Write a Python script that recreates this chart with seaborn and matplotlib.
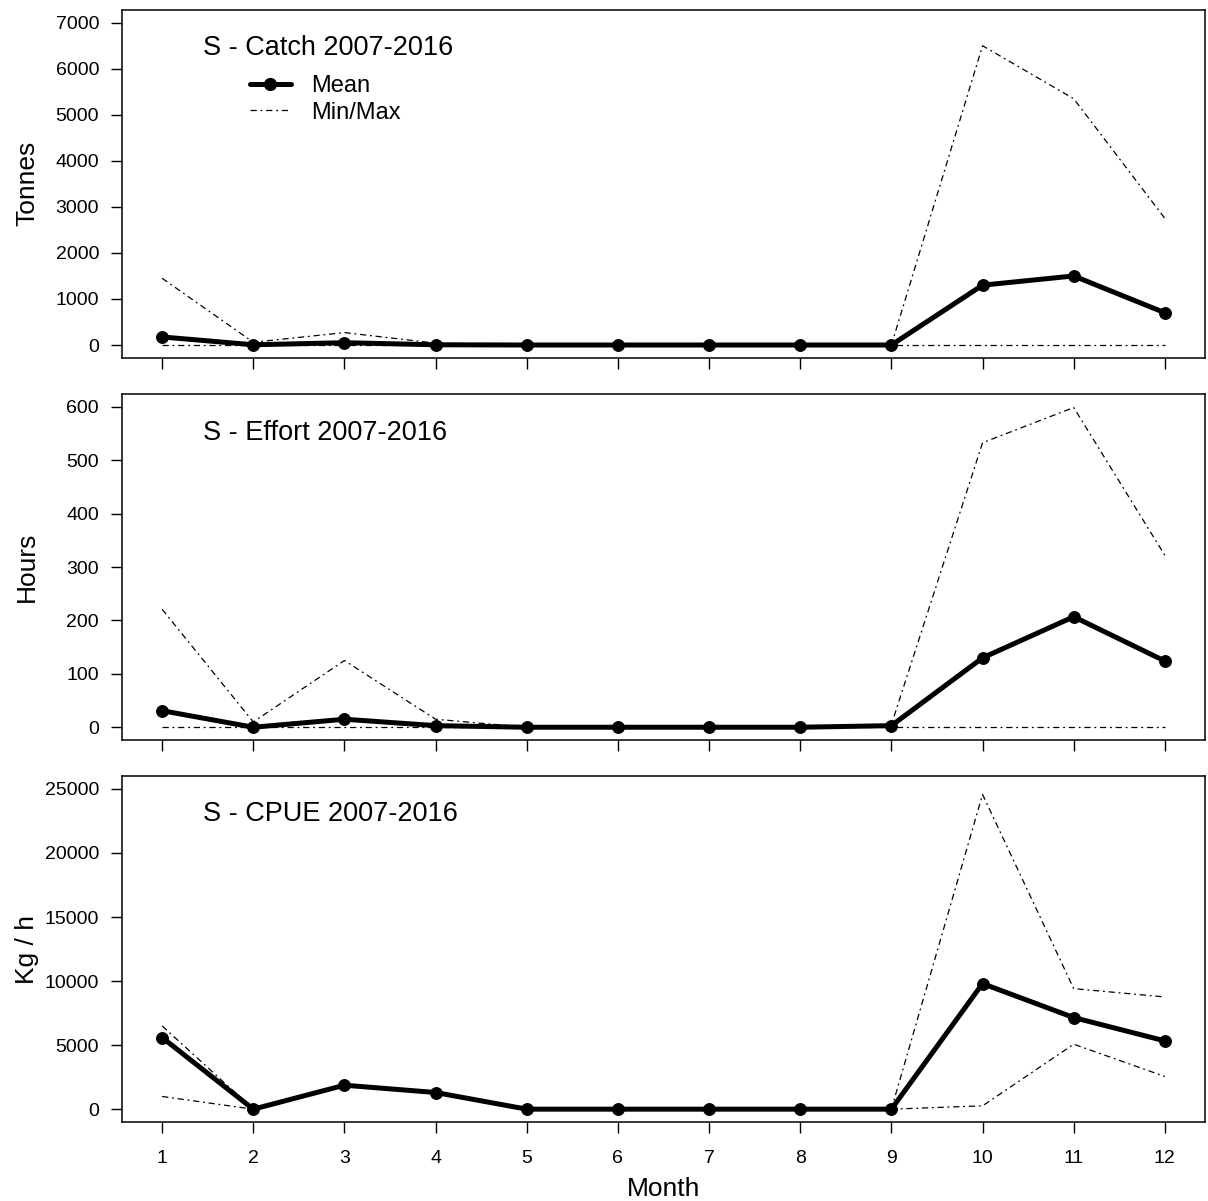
import numpy as np
import pandas as pd
import matplotlib
matplotlib.use("Agg")
import matplotlib.pyplot as plt
import seaborn as sns
from matplotlib.lines import Line2D

# monthly summaries
months = [1, 2, 3, 4, 5, 6, 7, 8, 9, 10, 11, 12]

catch_mean = [175, 5, 50, 5, 0, 0, 0, 0, 0, 1300, 1500, 700]
catch_min = [0, 0, 0, 0, 0, 0, 0, 0, 0, 0, 0, 0]
catch_max = [1450, 60, 270, 40, 0, 0, 0, 0, 0, 6500, 5350, 2750]

effort_mean = [31, 0, 15, 3, 0, 0, 0, 0, 3, 130, 207, 124]
effort_min = [0, 0, 0, 0, 0, 0, 0, 0, 0, 0, 0, 0]
effort_max = [221, 10, 125, 15, 0, 0, 0, 0, 5, 533, 599, 322]

cpue_mean = [5590, 0, 1870, 1300, 0, 0, 0, 0, 0, 9800, 7150, 5330]
cpue_min = [990, 0, 1870, 1300, 0, 0, 0, 0, 0, 260, 5070, 2550]
cpue_max = [6500, 0, 1870, 1300, 0, 0, 0, 0, 0, 24570, 9410, 8760]

titles = ["S - Catch 2007-2016", "S - Effort 2007-2016", "S - CPUE 2007-2016"]
ylabels = ["Tonnes", "Hours", "Kg / h"]
yticks = [range(0, 7001, 1000), range(0, 601, 100), range(0, 25001, 5000)]
ylims = [(-280, 7280), (-24, 624), (-1000, 26000)]

sns.set_theme(style="ticks")
plt.rcParams["font.family"] = ["Liberation Sans", "DejaVu Sans"]
plt.rcParams["text.color"] = "black"
plt.rcParams["axes.labelcolor"] = "black"

fig = plt.figure(figsize=(12.08, 12.01), dpi=100)
boxes = [[0.101, 0.702, 0.8965, 0.2898],
         [0.101, 0.3838, 0.8965, 0.288],
         [0.101, 0.0658, 0.8965, 0.288]]

panels = [(catch_mean, catch_min, catch_max),
          (effort_mean, effort_min, effort_max),
          (cpue_mean, cpue_min, cpue_max)]

dashdot = (0, (5, 3, 1.5, 3))

for i, (mean, lo, hi) in enumerate(panels):
    ax = fig.add_axes(boxes[i])
    df = pd.DataFrame({"Month": months, "mean": mean, "min": lo, "max": hi})

    sns.lineplot(data=df, x="Month", y="max", color="black", lw=0.9,
                 linestyle=dashdot, ax=ax, legend=False)
    sns.lineplot(data=df, x="Month", y="min", color="black", lw=0.9,
                 linestyle=dashdot, ax=ax, legend=False)
    sns.lineplot(data=df, x="Month", y="mean", color="black", lw=3.6,
                 marker="o", markersize=8.5, markeredgecolor="black",
                 ax=ax, legend=False)

    ax.set_xlim(0.56, 12.44)
    ax.set_ylim(*ylims[i])
    ax.set_xticks(months)
    ax.set_yticks(list(yticks[i]))
    ax.tick_params(axis="both", direction="out", length=8, width=1,
                   color="black", labelsize=14, labelcolor="black")
    ax.tick_params(axis="y", pad=8.5)
    ax.tick_params(axis="x", pad=12)
    if i < 2:
        ax.set_xticklabels([])
        ax.set_xlabel("")
    else:
        ax.set_xlabel("Month", fontsize=19, color="black")
        ax.xaxis.set_label_coords(0.5, -0.159)
    for s in ax.spines.values():
        s.set_visible(True)
        s.set_color("black")
        s.set_linewidth(1.1)

    ax.set_ylabel(ylabels[i], fontsize=19, color="black")
    ax.yaxis.label.set_va("center")
    ax.yaxis.set_label_coords(-0.0877, 0.5)

    ax.text(0.075, 0.889, titles[i], transform=ax.transAxes, fontsize=19.5,
            va="center", ha="left", color="black")

    if i == 0:
        handles = [Line2D([], [], color="black", lw=3.6, marker="o", markersize=8.5),
                   Line2D([], [], color="black", lw=0.9, linestyle=dashdot)]
        leg = ax.legend(handles, ["Mean", "Min/Max"], loc="upper left",
                        bbox_to_anchor=(0.118, 0.813), frameon=False, fontsize=17,
                        handlelength=1.75, handletextpad=0.85, labelspacing=0.2,
                        borderpad=0, borderaxespad=0)
        for t in leg.get_texts():
            t.set_color("black")

fig.savefig("out.png", dpi=100)
